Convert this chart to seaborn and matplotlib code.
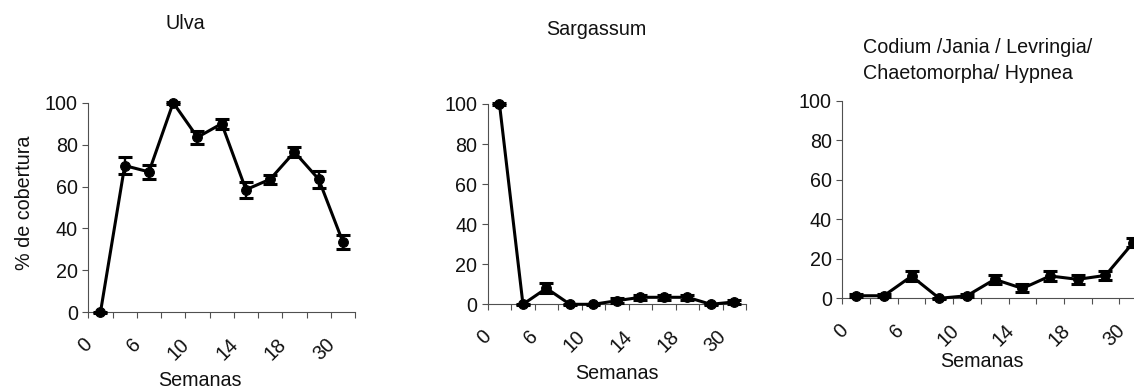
import numpy as np
import pandas as pd
import matplotlib
matplotlib.use("Agg")
import matplotlib.pyplot as plt
import matplotlib.transforms as mtransforms
import seaborn as sns

# ---------------- data ----------------
semanas = ["0", "4", "6", "8", "10", "12", "14", "16", "18", "22", "30"]
tick_labels = ["0", "6", "10", "14", "18", "30"]

ulva = [0, 70, 67, 100, 83.5, 90, 58.5, 63.5, 76.5, 63.5, 33.5]
ulva_err = [0.3, 4, 3.5, 0.5, 3, 2.4, 3.8, 2.2, 2.3, 4, 3.3]

sargassum = [100, 0, 8, 0, 0, 1.8, 3.5, 3.5, 3.5, 0, 1.2]
sargassum_err = [0.5, 0.3, 2.6, 0.2, 0.2, 1.2, 1.2, 1.2, 1.2, 0.2, 1.0]

codium = [1.3, 1.3, 11.2, 0, 1.3, 9.6, 5, 11.3, 9.6, 11.6, 28.2]
codium_err = [0.8, 0.8, 2.6, 0.2, 0.8, 2.4, 2.0, 2.4, 2.2, 2.2, 2.2]

titles = ["Ulva", "Sargassum", "Codium /Jania / Levringia/\nChaetomorpha/ Hypnea"]
ylabel = "% de cobertura"
xlabel = "Semanas"

# ---------------- style ----------------
sns.set_theme(style="white")
plt.rcParams["font.family"] = ["Liberation Sans", "DejaVu Sans"]
FS = 14.2
TXT = "#111111"
SPINE = "#505050"

fig = plt.figure(figsize=(11.34, 3.92), dpi=100)

# axes positions (figure fraction)
positions = [
    [0.0779, 0.2033, 0.2352, 0.5347],
    [0.4301, 0.2237, 0.2278, 0.5110],
    [0.7428, 0.2390, 0.2687, 0.5040],
]
series = [(ulva, ulva_err), (sargassum, sargassum_err), (codium, codium_err)]

# title placements (axes fraction)
title_pos = [
    dict(x=0.3626, y=1.350, ha="center", va="baseline"),
    dict(x=0.419, y=1.344, ha="center", va="baseline"),
    dict(x=0.068, y=1.318, ha="left", va="top"),
]
xlabel_pos = [(0.419, -0.323), (0.5006, -0.343), (0.4585, -0.322)]

idx = np.arange(len(semanas))

for i, (pos, (vals, errs)) in enumerate(zip(positions, series)):
    ax = fig.add_axes(pos)
    df = pd.DataFrame({"cat": idx, "val": vals})
    sns.lineplot(data=df, x="cat", y="val", ax=ax, color="black", lw=2.2,
                 marker="o", markersize=7, markeredgecolor="black",
                 markeredgewidth=0.8, clip_on=False, zorder=4, legend=False)
    ax.errorbar(idx, vals, yerr=errs, fmt="none", ecolor="black",
                elinewidth=1.7, capsize=4.8, capthick=2.2, clip_on=False,
                zorder=4)

    ax.set_xlim(-0.5, len(semanas) - 0.5)
    ax.set_ylim(0, 100)
    ax.set_yticks([0, 20, 40, 60, 80, 100])
    ax.set_yticklabels(["0", "20", "40", "60", "80", "100"], fontsize=FS, color=TXT)

    # category boundaries as (minor) tick marks, labels at every other category
    ax.set_xticks(np.arange(-0.5, len(semanas), 1.0), minor=True)
    ax.set_xticks(idx[::2])
    ax.set_xticklabels(tick_labels, fontsize=FS, color=TXT, rotation=45,
                       ha="right", va="center", rotation_mode="anchor")
    ax.tick_params(axis="x", which="major", length=0, pad=21)
    ax.tick_params(axis="x", which="minor", length=4.5, width=0.8,
                   direction="out", color=SPINE, bottom=True)
    ax.tick_params(axis="y", length=4.5, width=0.8, direction="out",
                   color=SPINE, left=True, pad=3)
    offset = mtransforms.ScaledTranslation(-8 / 72, 0, fig.dpi_scale_trans)
    for lab in ax.get_xticklabels():
        lab.set_transform(lab.get_transform() + offset)

    for s in ["top", "right"]:
        ax.spines[s].set_visible(False)
    for s in ["left", "bottom"]:
        ax.spines[s].set_color(SPINE)
        ax.spines[s].set_linewidth(0.8)

    ax.set_xlabel("")
    ax.set_ylabel("")
    ax.text(s=titles[i], transform=ax.transAxes, fontsize=FS, color=TXT,
            linespacing=1.45, **title_pos[i])
    ax.text(xlabel_pos[i][0], xlabel_pos[i][1], xlabel, transform=ax.transAxes,
            fontsize=FS, color=TXT, ha="center", va="center")
    if i == 0:
        ax.text(-0.241, 0.521, ylabel, transform=ax.transAxes, rotation=90,
                fontsize=FS, color=TXT, ha="center", va="center")

fig.savefig("out.png", dpi=100)
